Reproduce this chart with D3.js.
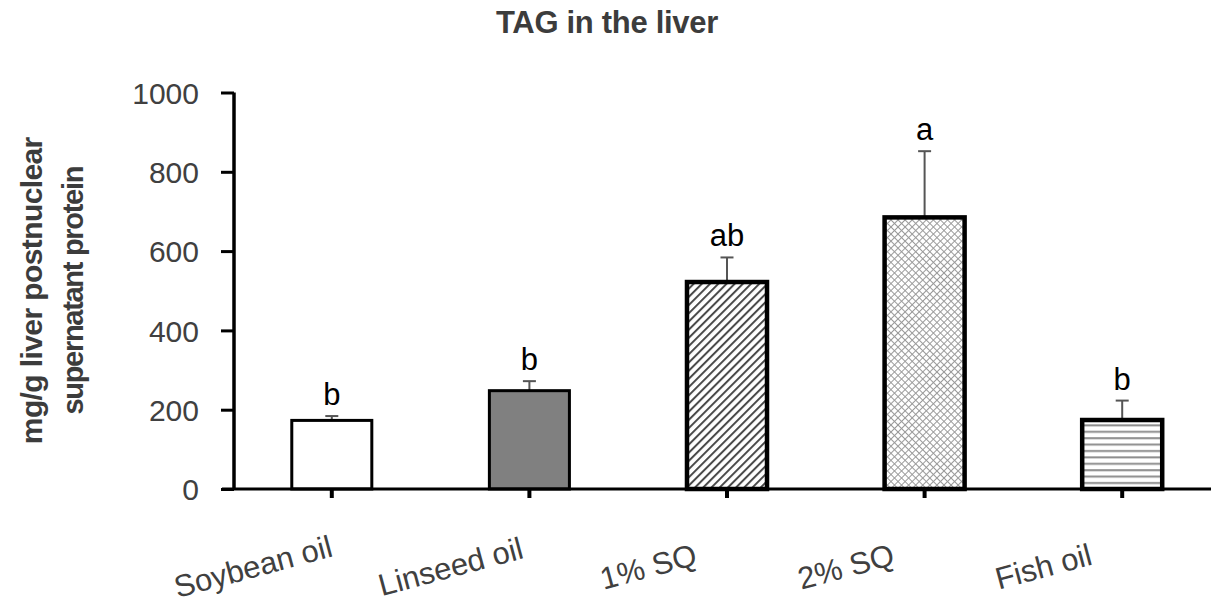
<!DOCTYPE html>
<html>
<head>
<meta charset="utf-8">
<script src="https://cdn.jsdelivr.net/npm/d3@7"></script>
<style>
  html, body { margin: 0; padding: 0; background: #fff; }
  svg { display: block; }
  text { font-family: "Liberation Sans", Arial, sans-serif; }
</style>
</head>
<body>
<svg id="chart" width="1211" height="606"></svg>
<script>
// ---- Data ----
const categories = ["Soybean oil", "Linseed oil", "1% SQ", "2% SQ", "Fish oil"];
const means      = [173, 248, 522, 685, 174];
const errors     = [11, 24, 62, 167, 49];
const letters    = ["b", "b", "ab", "a", "b"];
const yTicks     = [0, 200, 400, 600, 800, 1000];
const titleText  = "TAG in the liver";
const yLabelLines = ["mg/g liver postnuclear", "supernatant protein"];

// ---- Layout ----
const W = 1211, H = 606;
const svg = d3.select("#chart");

const x = d3.scaleBand().domain(categories).range([233, 1221]).padding(0);
const barW = x.bandwidth() * 0.405;
const y = d3.scaleLinear().domain([0, 1000]).range([489, 92.5]);

// ---- Patterns ----
const defs = svg.append("defs");
const pDiag = defs.append("pattern").attr("id", "diag")
  .attr("patternUnits", "userSpaceOnUse").attr("width", 5.8).attr("height", 10)
  .attr("patternTransform", "rotate(45)");
pDiag.append("rect").attr("width", 5.8).attr("height", 10).attr("fill", "#fff");
pDiag.append("line").attr("x1", 1).attr("x2", 1).attr("y1", 0).attr("y2", 10)
  .attr("stroke", "#4a4a4a").attr("stroke-width", 2);

const pCross = defs.append("pattern").attr("id", "cross")
  .attr("patternUnits", "userSpaceOnUse").attr("width", 5).attr("height", 5)
  .attr("patternTransform", "rotate(45)");
pCross.append("rect").attr("width", 5).attr("height", 5).attr("fill", "#fff");
pCross.append("line").attr("x1", 0.5).attr("x2", 0.5).attr("y1", 0).attr("y2", 5)
  .attr("stroke", "#9a9a9a").attr("stroke-width", 1);
pCross.append("line").attr("x1", 0).attr("x2", 5).attr("y1", 0.5).attr("y2", 0.5)
  .attr("stroke", "#9a9a9a").attr("stroke-width", 1);

const pHoriz = defs.append("pattern").attr("id", "horiz")
  .attr("patternUnits", "userSpaceOnUse").attr("width", 10).attr("height", 6.4);
pHoriz.append("rect").attr("width", 10).attr("height", 6.4).attr("fill", "#fff");
pHoriz.append("line").attr("x1", 0).attr("x2", 10).attr("y1", 3).attr("y2", 3)
  .attr("stroke", "#8c8c8c").attr("stroke-width", 2);

const fills   = ["#ffffff", "#808080", "url(#diag)", "url(#cross)", "url(#horiz)"];
const strokeW = [3, 3, 4.5, 4.5, 4.5];

const data = categories.map((c, i) => ({
  cat: c, mean: means[i], err: errors[i], letter: letters[i],
  fill: fills[i], sw: strokeW[i]
}));

// ---- Title ----
svg.append("text")
  .attr("x", 607).attr("y", 33)
  .attr("text-anchor", "middle")
  .attr("font-size", 31).attr("font-weight", "bold")
  .attr("fill", "#3c3c3c")
  .attr("letter-spacing", -0.3)
  .text(titleText);

// ---- Y axis label ----
const ylSizes = [30, 29];
const ylSpacing = [-0.6, -1.3];
const yl = svg.append("g");
yLabelLines.forEach((t, i) => {
  yl.append("text")
    .attr("transform", `translate(${42 + i * 41},${(y(0) + y(1000)) / 2}) rotate(-90)`)
    .attr("text-anchor", "middle")
    .attr("font-size", ylSizes[i]).attr("font-weight", "bold")
    .attr("fill", "#3c3c3c")
    .attr("letter-spacing", ylSpacing[i])
    .text(t);
});

// ---- Bars ----
const g = svg.append("g");
const cx = d => x(d.cat) + x.bandwidth() / 2;

// error bars (behind bars)
g.selectAll(".err").data(data).enter().append("line")
  .attr("x1", cx).attr("x2", cx)
  .attr("y1", d => y(d.mean)).attr("y2", d => y(d.mean + d.err))
  .attr("stroke", "#555").attr("stroke-width", 2);
g.selectAll(".cap").data(data).enter().append("line")
  .attr("x1", d => cx(d) - 6.5).attr("x2", d => cx(d) + 6.5)
  .attr("y1", d => y(d.mean + d.err)).attr("y2", d => y(d.mean + d.err))
  .attr("stroke", "#555").attr("stroke-width", 2);

g.selectAll(".bar").data(data).enter().append("rect")
  .attr("x", d => cx(d) - barW / 2)
  .attr("width", barW)
  .attr("y", d => y(d.mean))
  .attr("height", d => y(0) - y(d.mean))
  .attr("fill", d => d.fill)
  .attr("stroke", "#000")
  .attr("stroke-width", d => d.sw);

// letters
g.selectAll(".lett").data(data).enter().append("text")
  .attr("x", cx)
  .attr("y", d => y(d.mean + d.err) - 11)
  .attr("text-anchor", "middle")
  .attr("font-size", 31)
  .attr("fill", "#000")
  .text(d => d.letter);

// ---- Y axis ----
const yAxis = d3.axisLeft(y).tickValues(yTicks).tickSize(13).tickPadding(22)
  .tickFormat(d3.format("d"));
const ya = svg.append("g").attr("transform", "translate(234,0)").call(yAxis);
ya.select(".domain").attr("stroke", "#000").attr("stroke-width", 3.5)
  .attr("d", `M0,${y(1000)}V${y(0)}`);
ya.selectAll(".tick line").attr("stroke", "#000").attr("stroke-width", 3);
ya.selectAll(".tick text").attr("font-size", 30).attr("fill", "#404040")
  .attr("font-family", "Liberation Sans, Arial, sans-serif")
  .attr("dy", "0.36em");

// ---- X axis ----
const xAxis = d3.axisBottom(x).tickSize(9).tickFormat("");
const xa = svg.append("g").attr("transform", `translate(0,${y(0)})`).call(xAxis);
xa.select(".domain").attr("stroke", "#000").attr("stroke-width", 3)
  .attr("d", `M222,0H1211`);
xa.selectAll(".tick line").attr("stroke", "#000").attr("stroke-width", 4);

// x labels (rotated)
svg.append("g").selectAll("text").data(categories).enter().append("text")
  .attr("transform", d => `translate(${x(d) + x.bandwidth() / 2 - 76},${577}) rotate(-15)`)
  .attr("text-anchor", "middle")
  .attr("font-size", 31)
  .attr("fill", "#404040")
  .text(d => d);
</script>
</body>
</html>
